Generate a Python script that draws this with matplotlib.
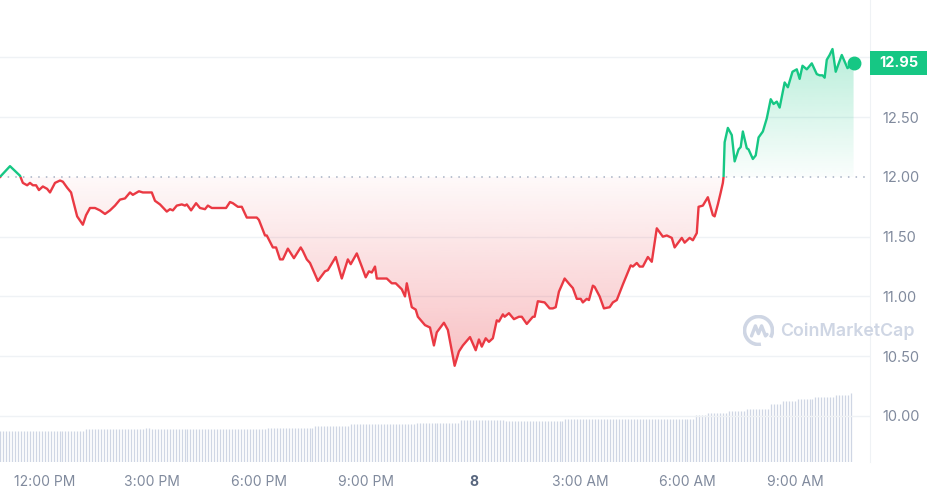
import numpy as np
import matplotlib
matplotlib.use("Agg")
import matplotlib.pyplot as plt
import matplotlib.transforms as mtransforms
from matplotlib.colors import to_rgb
from matplotlib.patches import Polygon, Rectangle, Arc

# hours relative to 12:00 PM on day 7, price in USD
HOURS = [
    -1.26, -0.98, -0.70, -0.62, -0.50, -0.42, -0.34, -0.25, -0.17, -0.06,
    0.06, 0.14, 0.28, 0.42, 0.50, 0.62, 0.73, 0.78, 0.90, 1.06,
    1.15, 1.26, 1.40, 1.54, 1.68, 1.82, 1.96, 2.10, 2.24, 2.38,
    2.46, 2.63, 2.74, 2.99, 3.08, 3.22, 3.41, 3.50, 3.58, 3.69,
    3.83, 3.92, 3.97, 4.09, 4.23, 4.34, 4.48, 4.56, 4.67, 4.81,
    5.07, 5.18, 5.26, 5.40, 5.51, 5.65, 5.93, 5.99, 6.16, 6.21,
    6.38, 6.47, 6.58, 6.66, 6.80, 6.97, 7.16, 7.22, 7.33, 7.42,
    7.64, 7.84, 7.92, 8.14, 8.31, 8.48, 8.56, 8.73, 8.87, 8.98,
    9.07, 9.15, 9.24, 9.29, 9.57, 9.71, 9.82, 9.99, 10.08, 10.13,
    10.27, 10.38, 10.44, 10.64, 10.78, 10.89, 10.97, 11.17, 11.28, 11.47,
    11.59, 11.70, 11.90, 12.06, 12.15, 12.23, 12.34, 12.43, 12.54, 12.65,
    12.71, 12.82, 12.87, 12.99, 13.13, 13.27, 13.35, 13.49, 13.66, 13.71,
    13.80, 13.99, 14.13, 14.22, 14.30, 14.39, 14.55, 14.69, 14.78, 14.89,
    15.00, 15.06, 15.17, 15.23, 15.34, 15.39, 15.53, 15.65, 15.81, 15.90,
    16.01, 16.18, 16.40, 16.46, 16.57, 16.65, 16.74, 16.88, 16.99, 17.13,
    17.30, 17.41, 17.55, 17.63, 17.83, 17.91, 18.05, 18.14, 18.25, 18.30,
    18.42, 18.56, 18.70, 18.75, 18.84, 18.92, 18.98, 19.00, 19.03, 19.12,
    19.23, 19.31, 19.42, 19.48, 19.54, 19.65, 19.70, 19.82, 19.90, 19.98,
    20.10, 20.21, 20.32, 20.40, 20.49, 20.57, 20.71, 20.80, 20.93, 21.05,
    21.13, 21.21, 21.33, 21.47, 21.61, 21.69, 21.77, 21.83, 21.89, 21.97,
    22.05, 22.14, 22.31, 22.47, 22.59, 22.64,
]
PRICES = [
    12.00, 12.09, 12.01, 11.95, 11.93, 11.95, 11.93, 11.93, 11.89, 11.92,
    11.90, 11.87, 11.95, 11.97, 11.96, 11.91, 11.87, 11.81, 11.67, 11.60,
    11.68, 11.74, 11.74, 11.72, 11.69, 11.72, 11.76, 11.81, 11.82, 11.87,
    11.85, 11.88, 11.87, 11.87, 11.80, 11.77, 11.71, 11.73, 11.72, 11.76,
    11.77, 11.76, 11.77, 11.72, 11.78, 11.74, 11.73, 11.76, 11.74, 11.74,
    11.74, 11.79, 11.78, 11.75, 11.75, 11.66, 11.66, 11.64, 11.51, 11.51,
    11.41, 11.41, 11.31, 11.31, 11.40, 11.32, 11.41, 11.38, 11.31, 11.28,
    11.13, 11.21, 11.22, 11.33, 11.15, 11.31, 11.27, 11.36, 11.25, 11.16,
    11.21, 11.20, 11.25, 11.15, 11.15, 11.11, 11.11, 11.06, 11.00, 11.11,
    10.91, 10.89, 10.83, 10.76, 10.74, 10.59, 10.70, 10.78, 10.72, 10.42,
    10.54, 10.59, 10.66, 10.55, 10.64, 10.58, 10.65, 10.62, 10.65, 10.80,
    10.79, 10.85, 10.83, 10.86, 10.81, 10.83, 10.83, 10.77, 10.83, 10.83,
    10.96, 10.95, 10.90, 10.90, 10.91, 11.04, 11.15, 11.10, 11.07, 10.98,
    10.98, 10.95, 10.98, 10.97, 11.09, 11.08, 11.00, 10.90, 10.91, 10.95,
    10.97, 11.10, 11.26, 11.25, 11.28, 11.25, 11.25, 11.33, 11.29, 11.57,
    11.50, 11.51, 11.49, 11.41, 11.49, 11.45, 11.49, 11.47, 11.53, 11.75,
    11.76, 11.83, 11.68, 11.67, 11.77, 11.87, 11.95, 12.00, 12.29, 12.41,
    12.35, 12.13, 12.23, 12.25, 12.38, 12.24, 12.23, 12.15, 12.18, 12.33,
    12.38, 12.49, 12.65, 12.61, 12.63, 12.58, 12.79, 12.75, 12.88, 12.90,
    12.82, 12.93, 12.90, 12.95, 12.86, 12.85, 12.85, 12.83, 12.98, 13.02,
    13.07, 12.88, 13.02, 12.91, 12.94, 12.95,
]
OPEN_PRICE = 12.00
LAST_PRICE = 12.95

# rolling 24h volume (millions), read as a staircase from the bars
VOLUME_STEP_HOURS = [-1.26, 1.15, 2.80, 2.94, 6.19, 7.53, 8.51, 10.33, 11.59, 12.83,
                     14.56, 18.20, 18.50, 19.13, 19.60, 20.27, 20.58, 21.03, 21.56,
                     22.12, 22.49]
VOLUME_STEP_LEVELS = [310, 327, 337, 327, 343, 363, 377, 393, 417, 410,
                      427, 470, 490, 510, 530, 580, 610, 630, 650, 670, 690]
BAR_MINUTES = 5

TICK_HOURS = [0, 3, 6, 9, 12, 15, 18, 21]
TICK_LABELS = ["12:00 PM", "3:00 PM", "6:00 PM", "9:00 PM", "8",
               "3:00 AM", "6:00 AM", "9:00 AM"]
PRICE_TICKS = [10.0, 10.5, 11.0, 11.5, 12.0, 12.5, 13.0]

GREEN = "#16c784"
RED = "#ea3943"
GRID = "#eff2f5"
LABEL = "#808a9d"

plt.rcParams["font.family"] = ["Inter", "DejaVu Sans"]

fig = plt.figure(figsize=(9.28, 4.95), dpi=100)
rect = [0.0, 33 / 495, 870 / 928, 462 / 495]

ax_vol = fig.add_axes(rect)
ax = fig.add_axes(rect)
ax.patch.set_visible(False)

hours = np.array(HOURS)
prices = np.array(PRICES)
x_min, x_max = -1.26, 23.10
y_min, y_max = 9.615, 13.48

# volume bars
bar_t = np.arange(HOURS[0], HOURS[-1] + 1e-9, BAR_MINUTES / 60)
idx = np.searchsorted(VOLUME_STEP_HOURS, bar_t, side="right") - 1
bar_v = np.array(VOLUME_STEP_LEVELS)[idx]
ax_vol.vlines(bar_t, 0, bar_v, color="#cfd6e4", linewidth=0.9)
ax_vol.set_xlim(x_min, x_max)
ax_vol.set_ylim(0, 4620)
ax_vol.axis("off")

# grid
for p in PRICE_TICKS:
    if p != OPEN_PRICE:
        ax.axhline(p, color=GRID, linewidth=1, zorder=0)
ax.axhline(OPEN_PRICE, color="#a6b0c3", linewidth=1.1, linestyle=(0, (1, 4)), zorder=2)

# gradient fills clipped to the area between line and open price
verts = list(zip(hours, prices)) + [(hours[-1], OPEN_PRICE), (hours[0], OPEN_PRICE)]
area = Polygon(verts, closed=True, facecolor="none", edgecolor="none")
ax.add_patch(area)

n = 256
grad = np.linspace(0, 1, n)[:, None]
red_img = np.zeros((n, 1, 4))
red_img[..., :3] = to_rgb(RED)
red_img[..., 3] = 0.32 - 0.29 * grad  # bottom darker
im_r = ax.imshow(red_img, extent=[x_min, x_max, prices.min(), OPEN_PRICE],
                 origin="lower", aspect="auto", zorder=1)
im_r.set_clip_path(area)

green_img = np.zeros((n, 1, 4))
green_img[..., :3] = to_rgb(GREEN)
green_img[..., 3] = 0.02 + 0.28 * grad  # top darker
im_g = ax.imshow(green_img, extent=[x_min, x_max, OPEN_PRICE, prices.max()],
                 origin="lower", aspect="auto", zorder=1)
im_g.set_clip_path(area)

# price line, green above open and red below
(up,) = ax.plot(hours, prices, color=GREEN, linewidth=1.7, zorder=3,
                solid_joinstyle="round")
up.set_clip_path(Rectangle((x_min, OPEN_PRICE), x_max - x_min, 5, transform=ax.transData))
(down,) = ax.plot(hours, prices, color=RED, linewidth=1.7, zorder=3,
                  solid_joinstyle="round")
down.set_clip_path(Rectangle((x_min, OPEN_PRICE - 5), x_max - x_min, 5, transform=ax.transData))
ax.plot(hours[-1], prices[-1], "o", color=GREEN, markersize=9, zorder=4)

ax.set_xlim(x_min, x_max)
ax.set_ylim(y_min, y_max)

# axes styling
for side in ["top", "left", "bottom"]:
    ax.spines[side].set_visible(False)
ax.spines["right"].set_color(GRID)
ax.yaxis.tick_right()
ax.set_yticks(PRICE_TICKS)
ax.set_yticklabels([f"{p:.2f}" for p in PRICE_TICKS])
ax.tick_params(axis="y", length=0, pad=9, labelsize=10.5, labelcolor=LABEL)
ax.set_xticks(TICK_HOURS)
ax.set_xticklabels(TICK_LABELS)
ax.tick_params(axis="x", length=0, pad=9, labelsize=10, labelcolor=LABEL)
for lbl in ax.get_xticklabels():
    if lbl.get_text() == "8":
        lbl.set_fontweight("bold")
        lbl.set_color("#58667e")

# last price tag (covers the 13.00 tick label, as on the site)
blend = mtransforms.blended_transform_factory(ax.transAxes, ax.transData)
tag_h = 24 * (y_max - y_min) / 462
ax.add_patch(Rectangle((1.0, LAST_PRICE - tag_h / 2), 58 / 870, tag_h,
                       transform=blend, facecolor=GREEN, edgecolor="none",
                       clip_on=False, zorder=5))
ax.text(1.0 + 29 / 870, LAST_PRICE, f"{LAST_PRICE:.2f}", transform=blend,
        ha="center", va="center", color="white", fontsize=10.5,
        fontweight="bold", zorder=6, clip_on=False)

# watermark
wm = "#cfd6e4"
fig.text(780 / 928, 1 - 331 / 495, "CoinMarketCap", ha="left", va="center",
         fontsize=12.8, fontweight="semibold", color=wm)
logo = fig.add_axes([743 / 928, 1 - 346 / 495, 31 / 928, 31 / 495])
logo.set_xlim(-1, 1)
logo.set_ylim(-1, 1)
logo.axis("off")
logo.add_patch(Arc((0, 0), 1.8, 1.8, theta1=-30, theta2=280, color=wm, linewidth=2.6))
logo.plot([-0.45, -0.2, 0.0, 0.2, 0.45, 0.55], [-0.35, 0.3, -0.2, 0.3, -0.35, -0.25],
          color=wm, linewidth=2.4, solid_joinstyle="round", solid_capstyle="round")

fig.savefig("out.png", dpi=100)
